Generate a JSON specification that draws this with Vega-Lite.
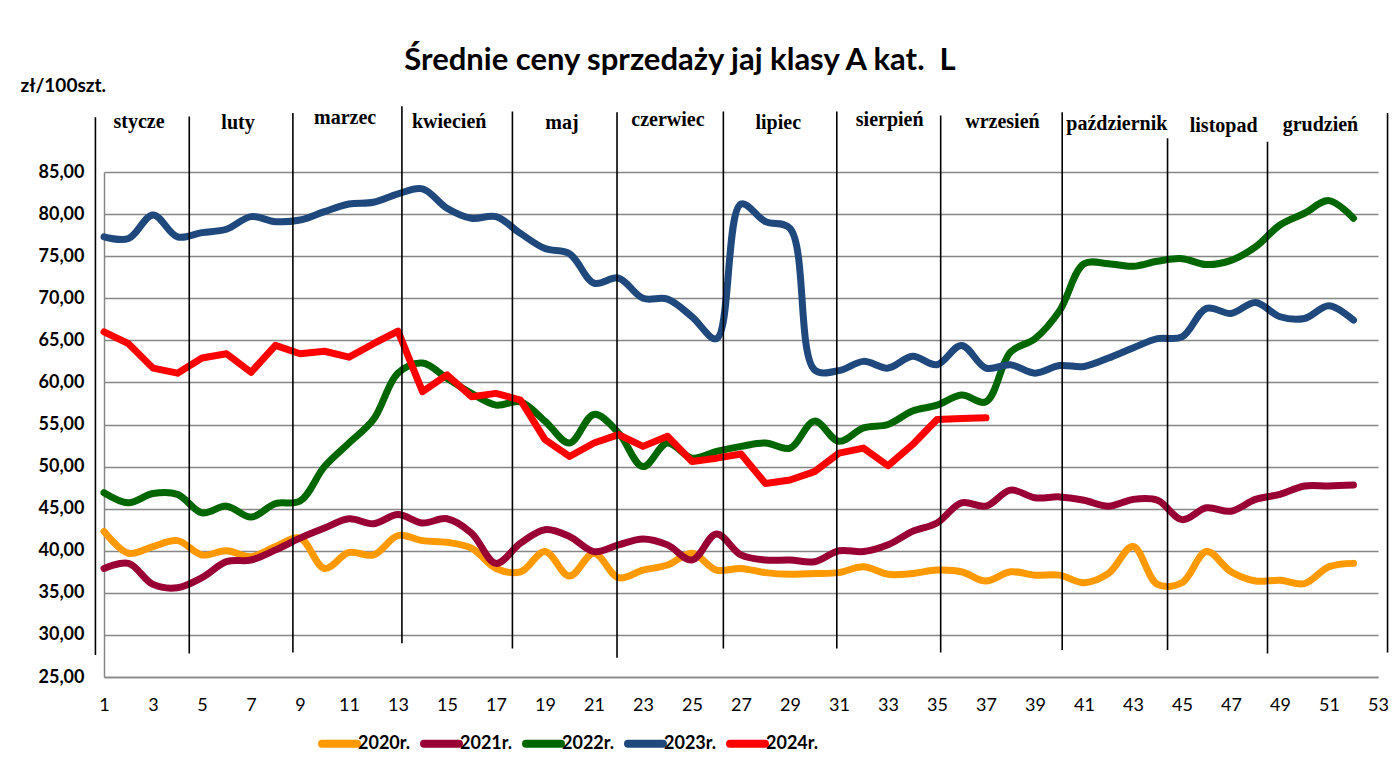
{
  "$schema": "https://vega.github.io/schema/vega-lite/v6.json",
  "autosize": {"type": "none"},
  "width": 1274,
  "height": 505,
  "padding": {"left": 104, "top": 172, "right": 16, "bottom": 90},
  "background": "white",
  "title": {
    "text": "Średnie ceny sprzedaży jaj klasy A kat.\u00a0\u00a0L",
    "font": "Lato",
    "fontSize": 31,
    "fontWeight": "bold",
    "color": "black",
    "anchor": "middle",
    "frame": "group",
    "dx": -61,
    "offset": -1
  },
  "datasets": {
    "prices": [
      {"week":1,"year":"2020r.","price":42.3},{"week":2,"year":"2020r.","price":39.7},{"week":3,"year":"2020r.","price":40.5},{"week":4,"year":"2020r.","price":41.2},{"week":5,"year":"2020r.","price":39.5},{"week":6,"year":"2020r.","price":40.0},{"week":7,"year":"2020r.","price":39.3},{"week":8,"year":"2020r.","price":40.5},{"week":9,"year":"2020r.","price":41.5},{"week":10,"year":"2020r.","price":37.9},
      {"week":11,"year":"2020r.","price":39.8},{"week":12,"year":"2020r.","price":39.5},{"week":13,"year":"2020r.","price":41.8},{"week":14,"year":"2020r.","price":41.2},{"week":15,"year":"2020r.","price":41.0},{"week":16,"year":"2020r.","price":40.3},{"week":17,"year":"2020r.","price":37.9},{"week":18,"year":"2020r.","price":37.5},{"week":19,"year":"2020r.","price":39.9},{"week":20,"year":"2020r.","price":37.0},
      {"week":21,"year":"2020r.","price":39.7},{"week":22,"year":"2020r.","price":36.8},{"week":23,"year":"2020r.","price":37.7},{"week":24,"year":"2020r.","price":38.3},{"week":25,"year":"2020r.","price":39.7},{"week":26,"year":"2020r.","price":37.7},{"week":27,"year":"2020r.","price":37.9},{"week":28,"year":"2020r.","price":37.4},{"week":29,"year":"2020r.","price":37.2},{"week":30,"year":"2020r.","price":37.3},
      {"week":31,"year":"2020r.","price":37.4},{"week":32,"year":"2020r.","price":38.1},{"week":33,"year":"2020r.","price":37.2},{"week":34,"year":"2020r.","price":37.3},{"week":35,"year":"2020r.","price":37.7},{"week":36,"year":"2020r.","price":37.5},{"week":37,"year":"2020r.","price":36.4},{"week":38,"year":"2020r.","price":37.5},{"week":39,"year":"2020r.","price":37.1},{"week":40,"year":"2020r.","price":37.1},
      {"week":41,"year":"2020r.","price":36.2},{"week":42,"year":"2020r.","price":37.3},{"week":43,"year":"2020r.","price":40.5},{"week":44,"year":"2020r.","price":36.0},{"week":45,"year":"2020r.","price":36.2},{"week":46,"year":"2020r.","price":39.9},{"week":47,"year":"2020r.","price":37.5},{"week":48,"year":"2020r.","price":36.4},{"week":49,"year":"2020r.","price":36.5},{"week":50,"year":"2020r.","price":36.1},
      {"week":51,"year":"2020r.","price":38.1},{"week":52,"year":"2020r.","price":38.5},

      {"week":1,"year":"2021r.","price":37.9},{"week":2,"year":"2021r.","price":38.5},{"week":3,"year":"2021r.","price":36.0},{"week":4,"year":"2021r.","price":35.6},{"week":5,"year":"2021r.","price":36.8},{"week":6,"year":"2021r.","price":38.7},{"week":7,"year":"2021r.","price":38.9},{"week":8,"year":"2021r.","price":40.1},{"week":9,"year":"2021r.","price":41.5},{"week":10,"year":"2021r.","price":42.7},
      {"week":11,"year":"2021r.","price":43.8},{"week":12,"year":"2021r.","price":43.2},{"week":13,"year":"2021r.","price":44.3},{"week":14,"year":"2021r.","price":43.3},{"week":15,"year":"2021r.","price":43.8},{"week":16,"year":"2021r.","price":42.1},{"week":17,"year":"2021r.","price":38.5},{"week":18,"year":"2021r.","price":40.9},{"week":19,"year":"2021r.","price":42.5},{"week":20,"year":"2021r.","price":41.7},
      {"week":21,"year":"2021r.","price":39.9},{"week":22,"year":"2021r.","price":40.7},{"week":23,"year":"2021r.","price":41.4},{"week":24,"year":"2021r.","price":40.7},{"week":25,"year":"2021r.","price":38.9},{"week":26,"year":"2021r.","price":42.0},{"week":27,"year":"2021r.","price":39.5},{"week":28,"year":"2021r.","price":38.9},{"week":29,"year":"2021r.","price":38.9},{"week":30,"year":"2021r.","price":38.7},
      {"week":31,"year":"2021r.","price":40.0},{"week":32,"year":"2021r.","price":39.9},{"week":33,"year":"2021r.","price":40.7},{"week":34,"year":"2021r.","price":42.3},{"week":35,"year":"2021r.","price":43.3},{"week":36,"year":"2021r.","price":45.7},{"week":37,"year":"2021r.","price":45.3},{"week":38,"year":"2021r.","price":47.2},{"week":39,"year":"2021r.","price":46.3},{"week":40,"year":"2021r.","price":46.4},
      {"week":41,"year":"2021r.","price":46.0},{"week":42,"year":"2021r.","price":45.3},{"week":43,"year":"2021r.","price":46.1},{"week":44,"year":"2021r.","price":46.0},{"week":45,"year":"2021r.","price":43.7},{"week":46,"year":"2021r.","price":45.1},{"week":47,"year":"2021r.","price":44.7},{"week":48,"year":"2021r.","price":46.1},{"week":49,"year":"2021r.","price":46.7},{"week":50,"year":"2021r.","price":47.7},
      {"week":51,"year":"2021r.","price":47.7},{"week":52,"year":"2021r.","price":47.8},

      {"week":1,"year":"2022r.","price":46.9},{"week":2,"year":"2022r.","price":45.7},{"week":3,"year":"2022r.","price":46.8},{"week":4,"year":"2022r.","price":46.7},{"week":5,"year":"2022r.","price":44.5},{"week":6,"year":"2022r.","price":45.3},{"week":7,"year":"2022r.","price":44.0},{"week":8,"year":"2022r.","price":45.6},{"week":9,"year":"2022r.","price":45.9},{"week":10,"year":"2022r.","price":50.0},
      {"week":11,"year":"2022r.","price":52.8},{"week":12,"year":"2022r.","price":55.6},{"week":13,"year":"2022r.","price":61.1},{"week":14,"year":"2022r.","price":62.3},{"week":15,"year":"2022r.","price":60.5},{"week":16,"year":"2022r.","price":58.7},{"week":17,"year":"2022r.","price":57.3},{"week":18,"year":"2022r.","price":57.7},{"week":19,"year":"2022r.","price":55.4},{"week":20,"year":"2022r.","price":52.8},
      {"week":21,"year":"2022r.","price":56.2},{"week":22,"year":"2022r.","price":54.0},{"week":23,"year":"2022r.","price":50.0},{"week":24,"year":"2022r.","price":52.8},{"week":25,"year":"2022r.","price":51.0},{"week":26,"year":"2022r.","price":51.8},{"week":27,"year":"2022r.","price":52.4},{"week":28,"year":"2022r.","price":52.8},{"week":29,"year":"2022r.","price":52.2},{"week":30,"year":"2022r.","price":55.4},
      {"week":31,"year":"2022r.","price":53.0},{"week":32,"year":"2022r.","price":54.6},{"week":33,"year":"2022r.","price":55.0},{"week":34,"year":"2022r.","price":56.6},{"week":35,"year":"2022r.","price":57.3},{"week":36,"year":"2022r.","price":58.5},{"week":37,"year":"2022r.","price":57.7},{"week":38,"year":"2022r.","price":63.6},{"week":39,"year":"2022r.","price":65.2},{"week":40,"year":"2022r.","price":68.5},
      {"week":41,"year":"2022r.","price":74.1},{"week":42,"year":"2022r.","price":74.1},{"week":43,"year":"2022r.","price":73.8},{"week":44,"year":"2022r.","price":74.4},{"week":45,"year":"2022r.","price":74.7},{"week":46,"year":"2022r.","price":74.0},{"week":47,"year":"2022r.","price":74.5},{"week":48,"year":"2022r.","price":76.1},{"week":49,"year":"2022r.","price":78.7},{"week":50,"year":"2022r.","price":80.1},
      {"week":51,"year":"2022r.","price":81.6},{"week":52,"year":"2022r.","price":79.5},

      {"week":1,"year":"2023r.","price":77.3},{"week":2,"year":"2023r.","price":77.1},{"week":3,"year":"2023r.","price":79.9},{"week":4,"year":"2023r.","price":77.3},{"week":5,"year":"2023r.","price":77.8},{"week":6,"year":"2023r.","price":78.2},{"week":7,"year":"2023r.","price":79.7},{"week":8,"year":"2023r.","price":79.1},{"week":9,"year":"2023r.","price":79.3},{"week":10,"year":"2023r.","price":80.3},
      {"week":11,"year":"2023r.","price":81.2},{"week":12,"year":"2023r.","price":81.4},{"week":13,"year":"2023r.","price":82.4},{"week":14,"year":"2023r.","price":83.0},{"week":15,"year":"2023r.","price":80.7},{"week":16,"year":"2023r.","price":79.5},{"week":17,"year":"2023r.","price":79.7},{"week":18,"year":"2023r.","price":77.7},{"week":19,"year":"2023r.","price":75.9},{"week":20,"year":"2023r.","price":75.3},
      {"week":21,"year":"2023r.","price":71.8},{"week":22,"year":"2023r.","price":72.4},{"week":23,"year":"2023r.","price":70.0},{"week":24,"year":"2023r.","price":69.9},{"week":25,"year":"2023r.","price":67.8},{"week":26,"year":"2023r.","price":65.2},{"week":27,"year":"2023r.","price":81.2},{"week":28,"year":"2023r.","price":79.1},{"week":29,"year":"2023r.","price":78.3},{"week":30,"year":"2023r.","price":61.5},
      {"week":31,"year":"2023r.","price":61.4},{"week":32,"year":"2023r.","price":62.5},{"week":33,"year":"2023r.","price":61.7},{"week":34,"year":"2023r.","price":63.1},{"week":35,"year":"2023r.","price":62.1},{"week":36,"year":"2023r.","price":64.4},{"week":37,"year":"2023r.","price":61.7},{"week":38,"year":"2023r.","price":62.1},{"week":39,"year":"2023r.","price":61.1},{"week":40,"year":"2023r.","price":62.0},
      {"week":41,"year":"2023r.","price":61.9},{"week":42,"year":"2023r.","price":62.9},{"week":43,"year":"2023r.","price":64.1},{"week":44,"year":"2023r.","price":65.2},{"week":45,"year":"2023r.","price":65.4},{"week":46,"year":"2023r.","price":68.8},{"week":47,"year":"2023r.","price":68.2},{"week":48,"year":"2023r.","price":69.5},{"week":49,"year":"2023r.","price":67.8},{"week":50,"year":"2023r.","price":67.6},
      {"week":51,"year":"2023r.","price":69.1},{"week":52,"year":"2023r.","price":67.4},

      {"week":1,"year":"2024r.","price":66.0},{"week":2,"year":"2024r.","price":64.6},{"week":3,"year":"2024r.","price":61.7},{"week":4,"year":"2024r.","price":61.1},{"week":5,"year":"2024r.","price":62.9},{"week":6,"year":"2024r.","price":63.4},{"week":7,"year":"2024r.","price":61.2},{"week":8,"year":"2024r.","price":64.4},{"week":9,"year":"2024r.","price":63.4},{"week":10,"year":"2024r.","price":63.7},
      {"week":11,"year":"2024r.","price":63.0},{"week":12,"year":"2024r.","price":64.6},{"week":13,"year":"2024r.","price":66.1},{"week":14,"year":"2024r.","price":58.9},{"week":15,"year":"2024r.","price":60.9},{"week":16,"year":"2024r.","price":58.3},{"week":17,"year":"2024r.","price":58.7},{"week":18,"year":"2024r.","price":57.9},{"week":19,"year":"2024r.","price":53.2},{"week":20,"year":"2024r.","price":51.2},
      {"week":21,"year":"2024r.","price":52.8},{"week":22,"year":"2024r.","price":53.8},{"week":23,"year":"2024r.","price":52.4},{"week":24,"year":"2024r.","price":53.6},{"week":25,"year":"2024r.","price":50.6},{"week":26,"year":"2024r.","price":51.0},{"week":27,"year":"2024r.","price":51.5},{"week":28,"year":"2024r.","price":48.0},{"week":29,"year":"2024r.","price":48.4},{"week":30,"year":"2024r.","price":49.4},
      {"week":31,"year":"2024r.","price":51.6},{"week":32,"year":"2024r.","price":52.2},{"week":33,"year":"2024r.","price":50.1},{"week":34,"year":"2024r.","price":52.6},{"week":35,"year":"2024r.","price":55.6},{"week":36,"year":"2024r.","price":55.7},{"week":37,"year":"2024r.","price":55.8}
    ],
    "separators": [
      {"pos":0.65,"low":27.6,"high":91.5},
      {"pos":4.48,"low":27.8,"high":91.6},
      {"pos":8.71,"low":27.9,"high":92.0},
      {"pos":13.16,"low":29.0,"high":92.8},
      {"pos":17.67,"low":28.4,"high":92.2},
      {"pos":21.94,"low":27.3,"high":92.1},
      {"pos":26.28,"low":28.4,"high":92.2},
      {"pos":30.91,"low":28.4,"high":92.2},
      {"pos":35.15,"low":27.9,"high":91.7},
      {"pos":40.11,"low":28.2,"high":92.1},
      {"pos":44.41,"low":28.2,"high":89.0},
      {"pos":48.49,"low":27.8,"high":88.6},
      {"pos":53.39,"low":27.9,"high":92.0}
    ],
    "months": [
      {"pos":2.43,"level":90.19,"month":"stycze"},
      {"pos":6.47,"level":90.16,"month":"luty"},
      {"pos":10.84,"level":90.67,"month":"marzec"},
      {"pos":15.09,"level":90.27,"month":"kwiecień"},
      {"pos":19.69,"level":90.16,"month":"maj"},
      {"pos":24.02,"level":90.43,"month":"czerwiec"},
      {"pos":28.52,"level":90.16,"month":"lipiec"},
      {"pos":33.07,"level":90.43,"month":"sierpień"},
      {"pos":37.67,"level":90.23,"month":"wrzesień"},
      {"pos":42.34,"level":90.04,"month":"październik"},
      {"pos":46.70,"level":89.75,"month":"listopad"},
      {"pos":50.65,"level":89.87,"month":"grudzień"}
    ]
  },
  "layer": [
    {
      "data": {"name": "prices"},
      "transform": [{"filter": "datum.year !== '2024r.'"}],
      "mark": {"type": "line", "interpolate": "catmull-rom", "strokeWidth": 7, "strokeCap": "round", "strokeJoin": "round"},
      "encoding": {
        "x": {
          "field": "week", "type": "quantitative",
          "scale": {"domain": [1, 53], "nice": false, "zero": false},
          "axis": {
            "title": null,
            "values": [1,3,5,7,9,11,13,15,17,19,21,23,25,27,29,31,33,35,37,39,41,43,45,47,49,51,53],
            "grid": false, "ticks": false,
            "domain": true, "domainColor": "#868686", "domainWidth": 1.5,
            "labelFont": "Lato", "labelFontSize": 18, "labelColor": "black", "labelPadding": 19,
            "labelFlush": false, "labelOverlap": false
          }
        },
        "y": {
          "field": "price", "type": "quantitative",
          "scale": {"domain": [25, 85], "nice": false, "zero": false},
          "axis": {
            "values": [25,30,35,40,45,50,55,60,65,70,75,80,85],
            "labelExpr": "replace(format(datum.value, '.2f'), '.', ',')",
            "grid": true, "gridColor": "#868686", "gridWidth": 1.3,
            "ticks": false,
            "domain": true, "domainColor": "#868686", "domainWidth": 1.5,
            "labelFont": "Lato", "labelFontWeight": "bold", "labelFontSize": 18, "labelColor": "black", "labelPadding": 20,
            "labelOverlap": false,
            "title": "zł/100szt.",
            "titleAngle": 0, "titleX": -84, "titleY": -87,
            "titleAlign": "left", "titleBaseline": "middle",
            "titleFont": "Lato", "titleFontWeight": "bold", "titleFontSize": 19, "titleColor": "black"
          }
        },
        "color": {
          "field": "year", "type": "nominal",
          "scale": {
            "domain": ["2020r.", "2021r.", "2022r.", "2023r.", "2024r."],
            "range": ["#FF9900", "#990033", "#006600", "#1F497D", "#FF0000"]
          },
          "legend": {
            "title": null,
            "orient": "none",
            "legendX": 214,
            "legendY": 550,
            "direction": "horizontal",
            "symbolType": "stroke",
            "symbolSize": 1225,
            "symbolStrokeWidth": 8,
            "labelFont": "Lato",
            "labelFontWeight": "bold",
            "labelFontSize": 18,
            "labelColor": "black",
            "labelOffset": -3,
            "columnPadding": -3,
            "padding": 0,
            "encode": {"symbols": {"update": {"strokeCap": {"value": "round"}}}}
          }
        }
      }
    },
    {
      "data": {"name": "prices"},
      "transform": [{"filter": "datum.year === '2024r.'"}],
      "mark": {"type": "line", "interpolate": "linear", "strokeWidth": 7, "strokeCap": "round", "strokeJoin": "round"},
      "encoding": {
        "x": {"field": "week", "type": "quantitative"},
        "y": {"field": "price", "type": "quantitative"},
        "color": {"field": "year", "type": "nominal"}
      }
    },
    {
      "data": {"name": "separators"},
      "mark": {"type": "rule", "color": "black", "strokeWidth": 1.6},
      "encoding": {
        "x": {"field": "pos", "type": "quantitative"},
        "y": {"field": "low", "type": "quantitative"},
        "y2": {"field": "high"}
      }
    },
    {
      "data": {"name": "months"},
      "mark": {"type": "text", "font": "Liberation Serif", "fontWeight": "bold", "fontSize": 20, "color": "black", "align": "center", "baseline": "alphabetic"},
      "encoding": {
        "x": {"field": "pos", "type": "quantitative"},
        "y": {"field": "level", "type": "quantitative"},
        "text": {"field": "month", "type": "nominal"}
      }
    }
  ],
  "config": {
    "view": {"stroke": null}
  }
}
